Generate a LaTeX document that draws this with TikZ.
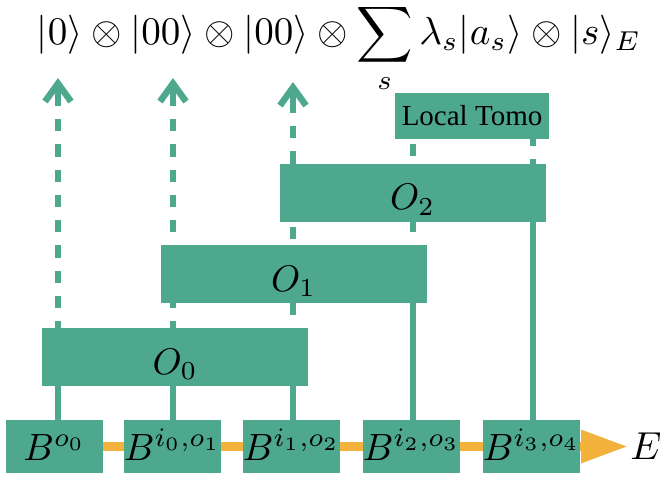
\RequirePackage{fix-cm}
\documentclass[tikz,border=0pt]{standalone}
\usepackage{exscale}
\usepackage{fontspec}
\newfontfamily\tomofont{Liberation Serif}
\usetikzlibrary{arrows.meta,backgrounds}
\definecolor{teal1}{RGB}{78,168,142}
\definecolor{gold1}{RGB}{242,178,60}
\newcommand{\bl}[1]{\scalebox{3.8}{$#1$}}
\newcommand{\ol}[1]{\scalebox{3.7}{$#1$}}
\begin{document}
\begin{tikzpicture}[x=1pt,y=-1pt,
  box/.style={fill=teal1, draw=none, inner sep=0pt},
  bbox/.style={box, minimum width=97pt, minimum height=53pt, text height=27pt, text depth=0pt},
  obox/.style={box, minimum width=266pt, minimum height=58pt, text height=34pt, text depth=0pt},
  wire/.style={teal1, line width=6.5pt},
  dwire/.style={wire, dash pattern=on 12.3pt off 13pt},
  tipline/.style={wire, -{Straight Barb[length=18pt,width=26pt]}},
  chain/.style={gold1, line width=9pt}
]
\useasboundingbox (0,0) rectangle (661,478);

\node[bbox] (b0) at (54.5,446.5) {\bl{B^{o_0}}};
\node[bbox] (b1) at (172.5,446.5) {\bl{B^{i_0,o_1}}};
\node[bbox] (b2) at (291.5,446.5) {\bl{B^{i_1,o_2}}};
\node[bbox] (b3) at (411.5,446.5) {\bl{B^{i_2,o_3}}};
\node[bbox] (b4) at (531.5,446.5) {\bl{B^{i_3,o_4}}};
\node[obox] (o0) at (175,357) {\ol{O_0}};
\node[obox] (o1) at (293.5,274) {\ol{O_1}};
\node[obox] (o2) at (412.5,193) {\ol{O_2}};
\node[box, minimum width=154pt, minimum height=46pt, font=\tomofont\fontsize{29}{32}\selectfont] (tomo) at (472,116) {Local Tomo};
\node[inner sep=0pt] (E) at (646,446.5) {\scalebox{3.9}{$E$}};
\node[anchor=base, inner sep=0pt] (state) at (339,45)
  {\resizebox{604pt}{!}{$\displaystyle |0\rangle\otimes|00\rangle\otimes|00\rangle\otimes\sum_s\lambda_s|a_s\rangle\otimes|s\rangle_E$}};

\coordinate (w0) at ([xshift=3.5pt]b0.north);
\coordinate (w1) at ([xshift=0.5pt]b1.north);
\coordinate (w2) at ([xshift=1.5pt]b2.north);
\coordinate (w3) at ([xshift=1.5pt]b3.north);
\coordinate (w4) at ([xshift=1.5pt]b4.north);
\coordinate (t0) at (58,78);  \coordinate (a0) at (58,106);
\coordinate (t1) at (173,78); \coordinate (a1) at (173,106);
\coordinate (t2) at (293,82); \coordinate (a2) at (293,113);
\coordinate (etip) at (628,446.5);

\begin{scope}[on background layer]
  \draw[chain, -{Triangle[length=47pt,width=31pt]}] (b0.center) -- (etip);
  \draw[wire] (w0) -- (w0 |- o0.south);
  \draw[dwire, dash phase=12.3pt] (a0) -- (w0 |- o0.south);
  \draw[tipline] (a0) -- (t0);
  \draw[wire] (w1) -- (w1 |- o0.south);
  \draw[dwire, dash phase=12.3pt] (a1) -- (w1 |- o0.south);
  \draw[tipline] (a1) -- (t1);
  \draw[wire] (w2) -- (w2 |- o0.south);
  \draw[dwire, dash phase=12.3pt] (a2) -- (w2 |- o0.south);
  \draw[tipline] (a2) -- (t2);
  \draw[wire] (w3) -- (w3 |- o1.south);
  \draw[dwire, dash phase=20.3pt] (w3 |- tomo.south) -- (w3 |- o1.south);
  \draw[wire] (w4) -- (w4 |- o2.south);
  \draw[dwire, dash phase=5.3pt] (w4 |- tomo.south) -- (w4 |- o2.south);
\end{scope}
\end{tikzpicture}
\end{document}
